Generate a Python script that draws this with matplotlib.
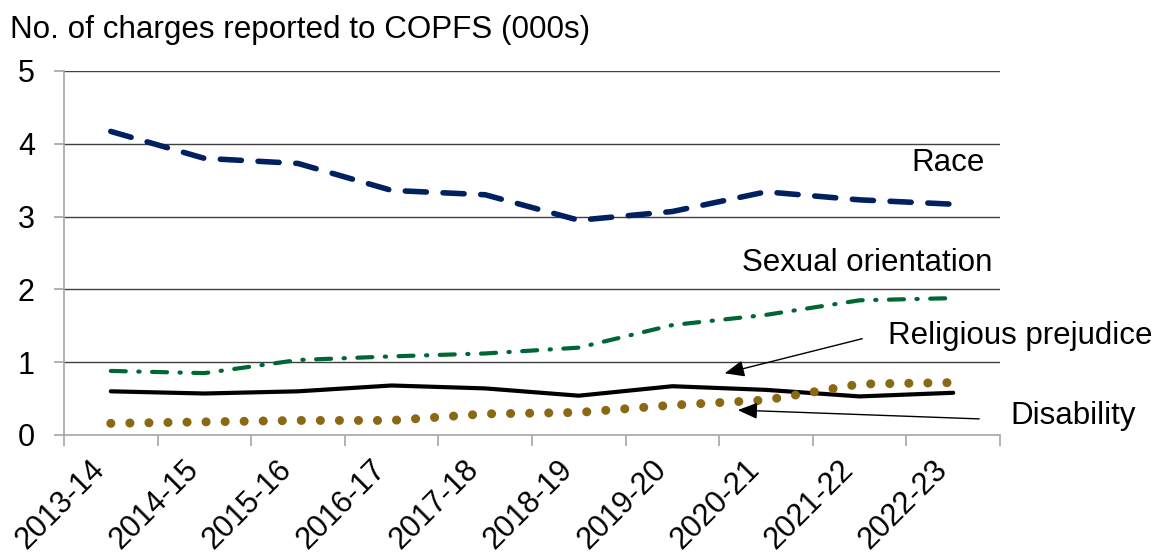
import matplotlib
matplotlib.use("Agg")
import matplotlib.pyplot as plt
from matplotlib.patches import FancyArrowPatch
import numpy as np

plt.rcParams["font.family"] = ["Liberation Sans", "DejaVu Sans"]

YEARS = ["2013-14", "2014-15", "2015-16", "2016-17", "2017-18",
         "2018-19", "2019-20", "2020-21", "2021-22", "2022-23"]
RACE = [4.17, 3.80, 3.73, 3.36, 3.30, 2.95, 3.07, 3.34, 3.23, 3.17]
SEXUAL_ORIENTATION = [0.88, 0.85, 1.03, 1.08, 1.12, 1.20, 1.51, 1.65, 1.85, 1.88]
RELIGIOUS = [0.60, 0.57, 0.60, 0.68, 0.64, 0.54, 0.67, 0.62, 0.53, 0.58]
DISABILITY = [0.16, 0.18, 0.20, 0.20, 0.29, 0.31, 0.41, 0.48, 0.70, 0.72]

W, H = 1161, 553
fig = plt.figure(figsize=(W / 100, H / 100), dpi=100)
ax = fig.add_axes([64 / W, 1 - 435 / H, (1000 - 64) / W, (435 - 71) / H])

x = np.arange(len(YEARS))
ax.set_xlim(-0.5, len(YEARS) - 0.5)
ax.set_ylim(0, 5)

# horizontal gridlines
for v in range(1, 6):
    ax.axhline(v, color="#404040", lw=1.0, zorder=1)

ax.plot(x, RACE, color="#002060", lw=4.0, dashes=(3.8, 3.0), dash_capstyle="round", zorder=3)
ax.plot(x, SEXUAL_ORIENTATION, color="#006633", lw=3.0, dashes=(3.6, 3.0, 0.3, 3.0),
        dash_capstyle="round", zorder=3)
ax.plot(x, RELIGIOUS, color="black", lw=3.0, solid_capstyle="round", zorder=3)
ax.plot(x, DISABILITY, color="#8B6914", lw=6.5, dashes=(0.01, 2.1), dash_capstyle="round", zorder=3)

for side in ("top", "right"):
    ax.spines[side].set_visible(False)
for side in ("left", "bottom"):
    ax.spines[side].set_color("#A6A6A6")
    ax.spines[side].set_linewidth(1.2)

ax.set_yticks(range(0, 6))
ax.tick_params(axis="y", length=7, width=1.2, color="#A6A6A6", labelsize=22, pad=14)

# category boundaries carry the tick marks, labels sit at the centres
ax.set_xticks(np.arange(len(YEARS) + 1) - 0.5)
ax.set_xticklabels([])
ax.set_xticks(x, minor=True)
ax.set_xticklabels(YEARS, minor=True, rotation=45, ha="right", va="top", fontsize=22)
ax.tick_params(axis="x", which="major", length=8, width=1.2, color="#A6A6A6")
ax.tick_params(axis="x", which="minor", length=0, pad=14)

fig.text(10 / W, 1 - 30 / H, "No. of charges reported to COPFS (000s)", fontsize=22.6,
         ha="left", va="center")

fig.text(985 / W, 1 - 163 / H, "Race", fontsize=22.5, ha="right", va="center")
fig.text(992 / W, 1 - 263 / H, "Sexual orientation", fontsize=22.5, ha="right", va="center")
fig.text(888 / W, 1 - 336 / H, "Religious prejudice", fontsize=22.5, ha="left", va="center")
fig.text(1010 / W, 1 - 416 / H, "Disability", fontsize=22.5, ha="left", va="center")

fig.add_artist(FancyArrowPatch(
    (865 / W, 1 - 338 / H), (722 / W, 1 - 374 / H), transform=fig.transFigure,
    arrowstyle="-|>,head_length=12,head_width=5", mutation_scale=1, color="black", lw=1.0))
fig.add_artist(FancyArrowPatch(
    (982 / W, 1 - 419 / H), (735 / W, 1 - 410 / H), transform=fig.transFigure,
    arrowstyle="-|>,head_length=12,head_width=5", mutation_scale=1, color="black", lw=1.0))

fig.savefig("out.png", dpi=100)
